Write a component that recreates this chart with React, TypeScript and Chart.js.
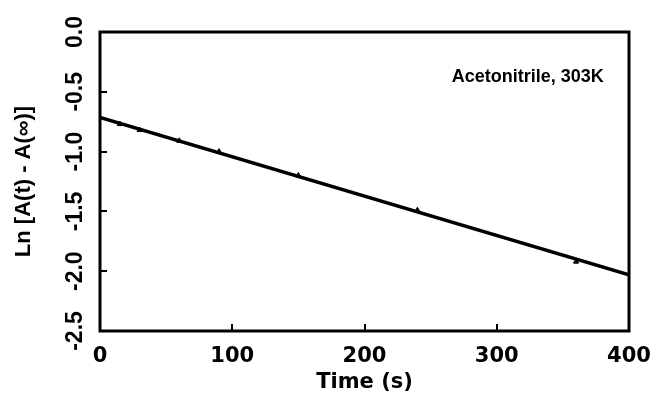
import React, { useEffect, useRef } from "react";
import { Chart, registerables } from "chart.js";

Chart.register(...registerables);

const times = [15, 30, 60, 90, 150, 240, 360];
const lnValues = [-0.77, -0.82, -0.91, -1.0, -1.2, -1.49, -1.92];
const fitTimes = [0, 400];
const fitValues = [-0.715, -2.03];
const xTicks = [0, 100, 200, 300, 400];
const yTicks = [-2.5, -2.0, -1.5, -1.0, -0.5, 0.0];
const xTitle = "Time (s)";
const yTitle = "Ln [A(t) - A(\u221E)]";
const annotationText = "Acetonitrile, 303K";
const annotationAnchor = { x: 381, y: -0.375 };

const FONT = "'Liberation Sans', Arial, Helvetica, sans-serif";
const WIDE = "'DejaVu Sans', sans-serif";

const framePlugin = {
  id: "frameAndNote",
  afterDatasetsDraw(chart: any) {
    const { ctx, chartArea, scales } = chart;
    ctx.save();
    ctx.strokeStyle = "#000";
    ctx.lineWidth = 3;
    ctx.strokeRect(chartArea.left, chartArea.top, chartArea.right - chartArea.left, chartArea.bottom - chartArea.top);
    ctx.fillStyle = "#000";
    ctx.font = `bold 18px ${FONT}`;
    ctx.textAlign = "right";
    ctx.textBaseline = "middle";
    ctx.fillText(
      annotationText,
      scales.x.getPixelForValue(annotationAnchor.x),
      scales.y.getPixelForValue(annotationAnchor.y)
    );
    ctx.restore();
  },
};

export default function App() {
  const ref = useRef<HTMLCanvasElement | null>(null);
  useEffect(() => {
    if (!ref.current) return;
    const chart = new Chart(ref.current, {
      type: "scatter",
      data: {
        datasets: [
          {
            type: "line",
            data: fitTimes.map((t, i) => ({ x: t, y: fitValues[i] })),
            borderColor: "#000",
            borderWidth: 3.5,
            pointRadius: 0,
            fill: false,
            tension: 0,
          },
          {
            type: "scatter",
            data: times.map((t, i) => ({ x: t, y: lnValues[i] })),
            pointStyle: "triangle",
            pointRadius: 3,
            backgroundColor: "#000",
            borderColor: "#000",
            borderWidth: 1,
          },
        ],
      },
      options: {
        animation: false,
        responsive: false,
        maintainAspectRatio: false,
        layout: { padding: { left: 0, top: 32, right: 24, bottom: 0 } },
        plugins: { legend: { display: false }, tooltip: { enabled: false } },
        scales: {
          x: {
            type: "linear",
            min: 0,
            max: 400,
            afterBuildTicks: (s: any) => {
              s.ticks = xTicks.map((v) => ({ value: v }));
            },
            afterFit: (s: any) => {
              s.height = 72;
              s.paddingLeft = 0;
              s.paddingRight = 0;
            },
            border: { display: false },
            grid: { drawOnChartArea: false, drawTicks: true, tickLength: -7, color: "#000", lineWidth: 2 },
            ticks: {
              color: "#000",
              font: { family: WIDE, size: 21, weight: "bold" },
              padding: 20,
              maxRotation: 0,
              minRotation: 0,
              callback: (v: any) => String(v),
            },
            title: {
              display: true,
              text: xTitle,
              color: "#000",
              font: { family: WIDE, size: 21, weight: "bold" },
              padding: { top: 0, bottom: 8 },
            },
          },
          y: {
            type: "linear",
            min: -2.5,
            max: 0,
            afterBuildTicks: (s: any) => {
              s.ticks = yTicks.map((v) => ({ value: v }));
            },
            afterFit: (s: any) => {
              s.width = 100;
              s.paddingTop = 0;
              s.paddingBottom = 0;
            },
            border: { display: false },
            grid: { drawOnChartArea: false, drawTicks: true, tickLength: -7, color: "#000", lineWidth: 2 },
            ticks: {
              color: "#000",
              font: { family: FONT, size: 23, weight: "bold" },
              padding: 12,
              minRotation: 90,
              maxRotation: 90,
              crossAlign: "center",
              callback: (v: any) => Number(v).toFixed(1),
            },
            title: {
              display: true,
              text: yTitle,
              color: "#000",
              font: { family: FONT, size: 22, weight: "bold" },
              padding: { top: 11, bottom: 0 },
            },
          },
        },
      },
      plugins: [framePlugin],
    } as any);
    return () => chart.destroy();
  }, []);
  return (
    <div style={{ position: "fixed", left: 0, top: 0, width: 653, height: 403, background: "#fff" }}>
      <canvas ref={ref} width={653} height={403} style={{ width: 653, height: 403 }} />
    </div>
  );
}
